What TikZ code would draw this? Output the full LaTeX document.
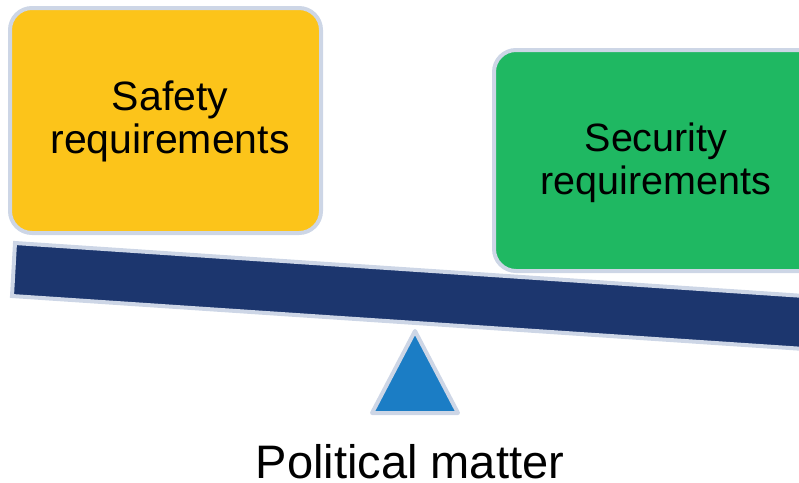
\documentclass[tikz,border=0pt]{standalone}
\usepackage{fontspec}
\setmainfont{Liberation Sans}
\definecolor{edgegray}{RGB}{205,214,230}
\definecolor{safetyyellow}{RGB}{252,196,26}
\definecolor{securitygreen}{RGB}{31,184,98}
\definecolor{beamnavy}{RGB}{28,54,110}
\definecolor{pivotblue}{RGB}{27,125,197}
\begin{document}
\begin{tikzpicture}[x=1pt,y=-1pt,
  reqbox/.style={draw=edgegray,line width=4pt,rounded corners=22pt,minimum width=311pt,minimum height=225pt,inner sep=0pt},
  reqtext/.style={align=center,font=\fontsize{41}{43}\selectfont,text=black,inner sep=0pt},
  solid shape/.style={draw=edgegray,line width=4pt,line join=round}]
\useasboundingbox (0,0) rectangle (799,482);
\clip (0,0) rectangle (799,482);
% boxes
\node[reqbox,fill=safetyyellow] (safetybox) at (165.5,120.5) {};
\node[reqtext] (safetytext) at (170,121) {Safety\\requirements};
\node[reqbox,fill=securitygreen,minimum width=336pt,minimum height=221pt] (securitybox) at (662,160.5) {};
\node[reqtext,font=\fontsize{39.5}{43}\selectfont] (securitytext) at (656,163) {Security\\requirements};
% pivot
\coordinate (apex) at (415,331);
\coordinate (baseL) at (372,413);
\coordinate (baseR) at (458,413);
\draw[solid shape,fill=pivotblue] (apex) -- (baseL) -- (baseR) -- cycle;
% beam
\coordinate (beamTL) at (15,243);
\coordinate (beamBL) at (12,296);
\coordinate (beamTR) at (830,297.7);
\coordinate (beamBR) at (827,350.5);
\draw[solid shape,line join=miter,fill=beamnavy] (beamTL) -- (beamTR) -- (beamBR) -- (beamBL) -- cycle;
% caption
\node[anchor=base,font=\fontsize{47}{50}\selectfont,inner sep=0pt] (caption) at (410,478.5) {Political matter};
\end{tikzpicture}
\end{document}
